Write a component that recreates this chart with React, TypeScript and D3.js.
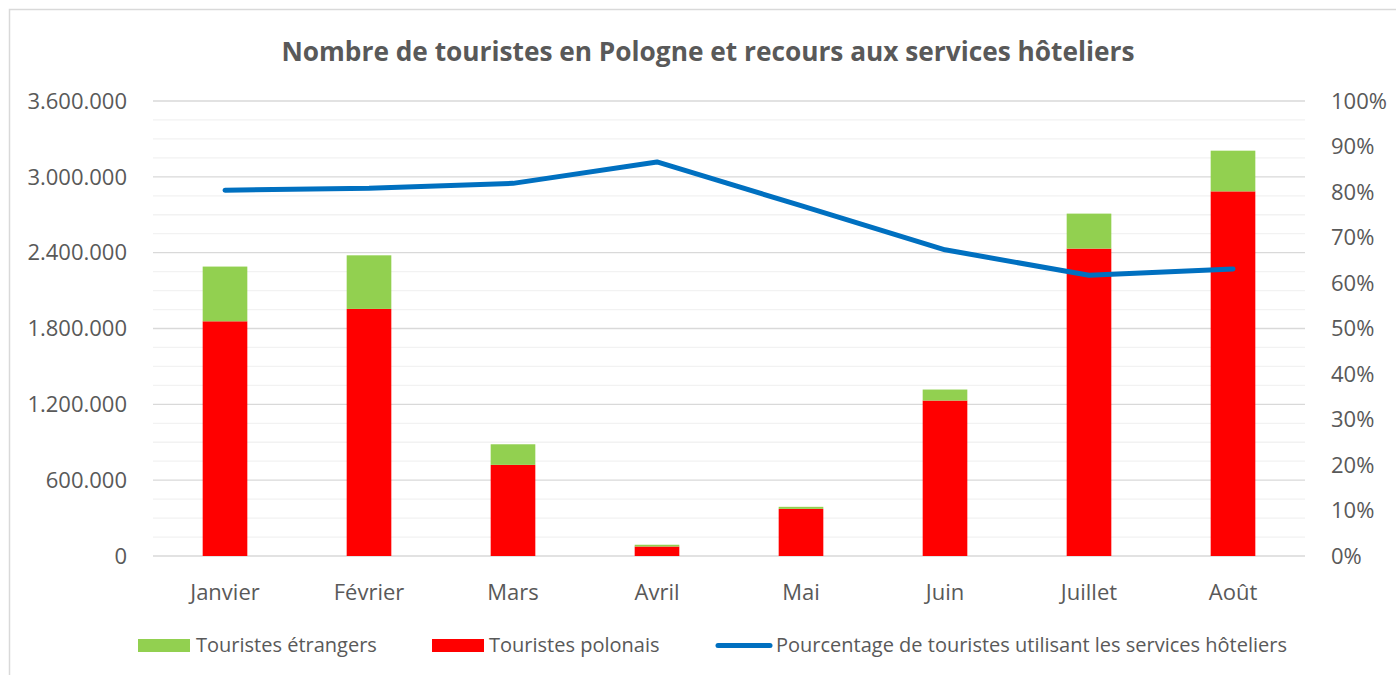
import * as d3 from "d3";

const months = ["Janvier", "Février", "Mars", "Avril", "Mai", "Juin", "Juillet", "Août"];
const polonais = [1857000, 1955000, 721000, 75000, 373000, 1230000, 2432000, 2885000];
const etrangers = [433000, 424000, 163000, 14000, 16000, 87000, 277000, 322000];
const pourcentage = [80.4, 80.8, 81.9, 86.6, 77.0, 67.3, 61.7, 63.1];
const leftTicks = [0, 600000, 1200000, 1800000, 2400000, 3000000, 3600000];
const rightTicks = [0, 10, 20, 30, 40, 50, 60, 70, 80, 90, 100];

const W = 1396;
const H = 675;
const plot = { left: 153, right: 1305, top: 101, bottom: 556 };
const font = "'Segoe UI', 'Open Sans', sans-serif";
const textColor = "#595959";

const fmt = (v: number) => d3.format(",")(v).replace(/,/g, ".");

export default function App() {
  const x = d3.scaleBand<string>().domain(months).range([plot.left, plot.right]).paddingInner(0.69).paddingOuter(0.345);
  const y = d3.scaleLinear().domain([0, 3600000]).range([plot.bottom, plot.top]);
  const yPct = d3.scaleLinear().domain([0, 100]).range([plot.bottom, plot.top]);

  const minor = d3.range(0, 3600001, 150000);
  const cx = (m: string) => (x(m) as number) + x.bandwidth() / 2;

  const line = d3
    .line<number>()
    .x((_, i) => cx(months[i]))
    .y((d) => yPct(d));

  return (
    <svg width={W} height={H} style={{ position: "absolute", left: 0, top: 0, background: "#fff" }}>
      <rect x={9.5} y={9.5} width={1420} height={700} fill="#fff" stroke="#d9d9d9" strokeWidth={1.5} />

      <text
        x={708}
        y={61}
        textAnchor="middle"
        fontFamily={font}
        fontWeight="bold"
        fontSize={26}
        textLength={853}
        lengthAdjust="spacingAndGlyphs"
        fill={textColor}
      >
        Nombre de touristes en Pologne et recours aux services hôteliers
      </text>

      {/* grille */}
      {minor.map((v) => (
        <line
          key={v}
          x1={plot.left}
          x2={plot.right}
          y1={y(v)}
          y2={y(v)}
          stroke={v % 600000 === 0 ? "#d9d9d9" : "#f2f2f2"}
          strokeWidth={1.3}
        />
      ))}

      {leftTicks.map((v) => (
        <text key={v} x={127} y={y(v)} dy="0.35em" textAnchor="end" fontFamily={font} fontSize={22} fill={textColor}>
          {fmt(v)}
        </text>
      ))}
      {rightTicks.map((v) => (
        <text key={v} x={1331} y={yPct(v)} dy="0.35em" textAnchor="start" fontFamily={font} fontSize={22} fill={textColor}>
          {v}%
        </text>
      ))}

      {/* barres empilées */}
      {months.map((m, i) => (
        <g key={m}>
          <rect x={x(m)} y={y(polonais[i])} width={x.bandwidth()} height={y(0) - y(polonais[i])} fill="#ff0000" />
          <rect
            x={x(m)}
            y={y(polonais[i] + etrangers[i])}
            width={x.bandwidth()}
            height={y(polonais[i]) - y(polonais[i] + etrangers[i])}
            fill="#92d050"
          />
          <text x={cx(m)} y={600} textAnchor="middle" fontFamily={font} fontSize={22} fill={textColor}>
            {m}
          </text>
        </g>
      ))}

      <path d={line(pourcentage) || ""} fill="none" stroke="#0070c0" strokeWidth={5} strokeLinecap="round" strokeLinejoin="round" />

      {/* légende */}
      <g fontFamily={font} fontSize={20} fill={textColor}>
        <rect x={138} y={639} width={52} height={13} fill="#92d050" />
        <text x={196} y={652}>Touristes étrangers</text>
        <rect x={432} y={639} width={52} height={13} fill="#ff0000" />
        <text x={489} y={652}>Touristes polonais</text>
        <line x1={718} x2={770} y1={645.5} y2={645.5} stroke="#0070c0" strokeWidth={5} strokeLinecap="round" />
        <text x={776} y={652}>Pourcentage de touristes utilisant les services hôteliers</text>
      </g>
    </svg>
  );
}
